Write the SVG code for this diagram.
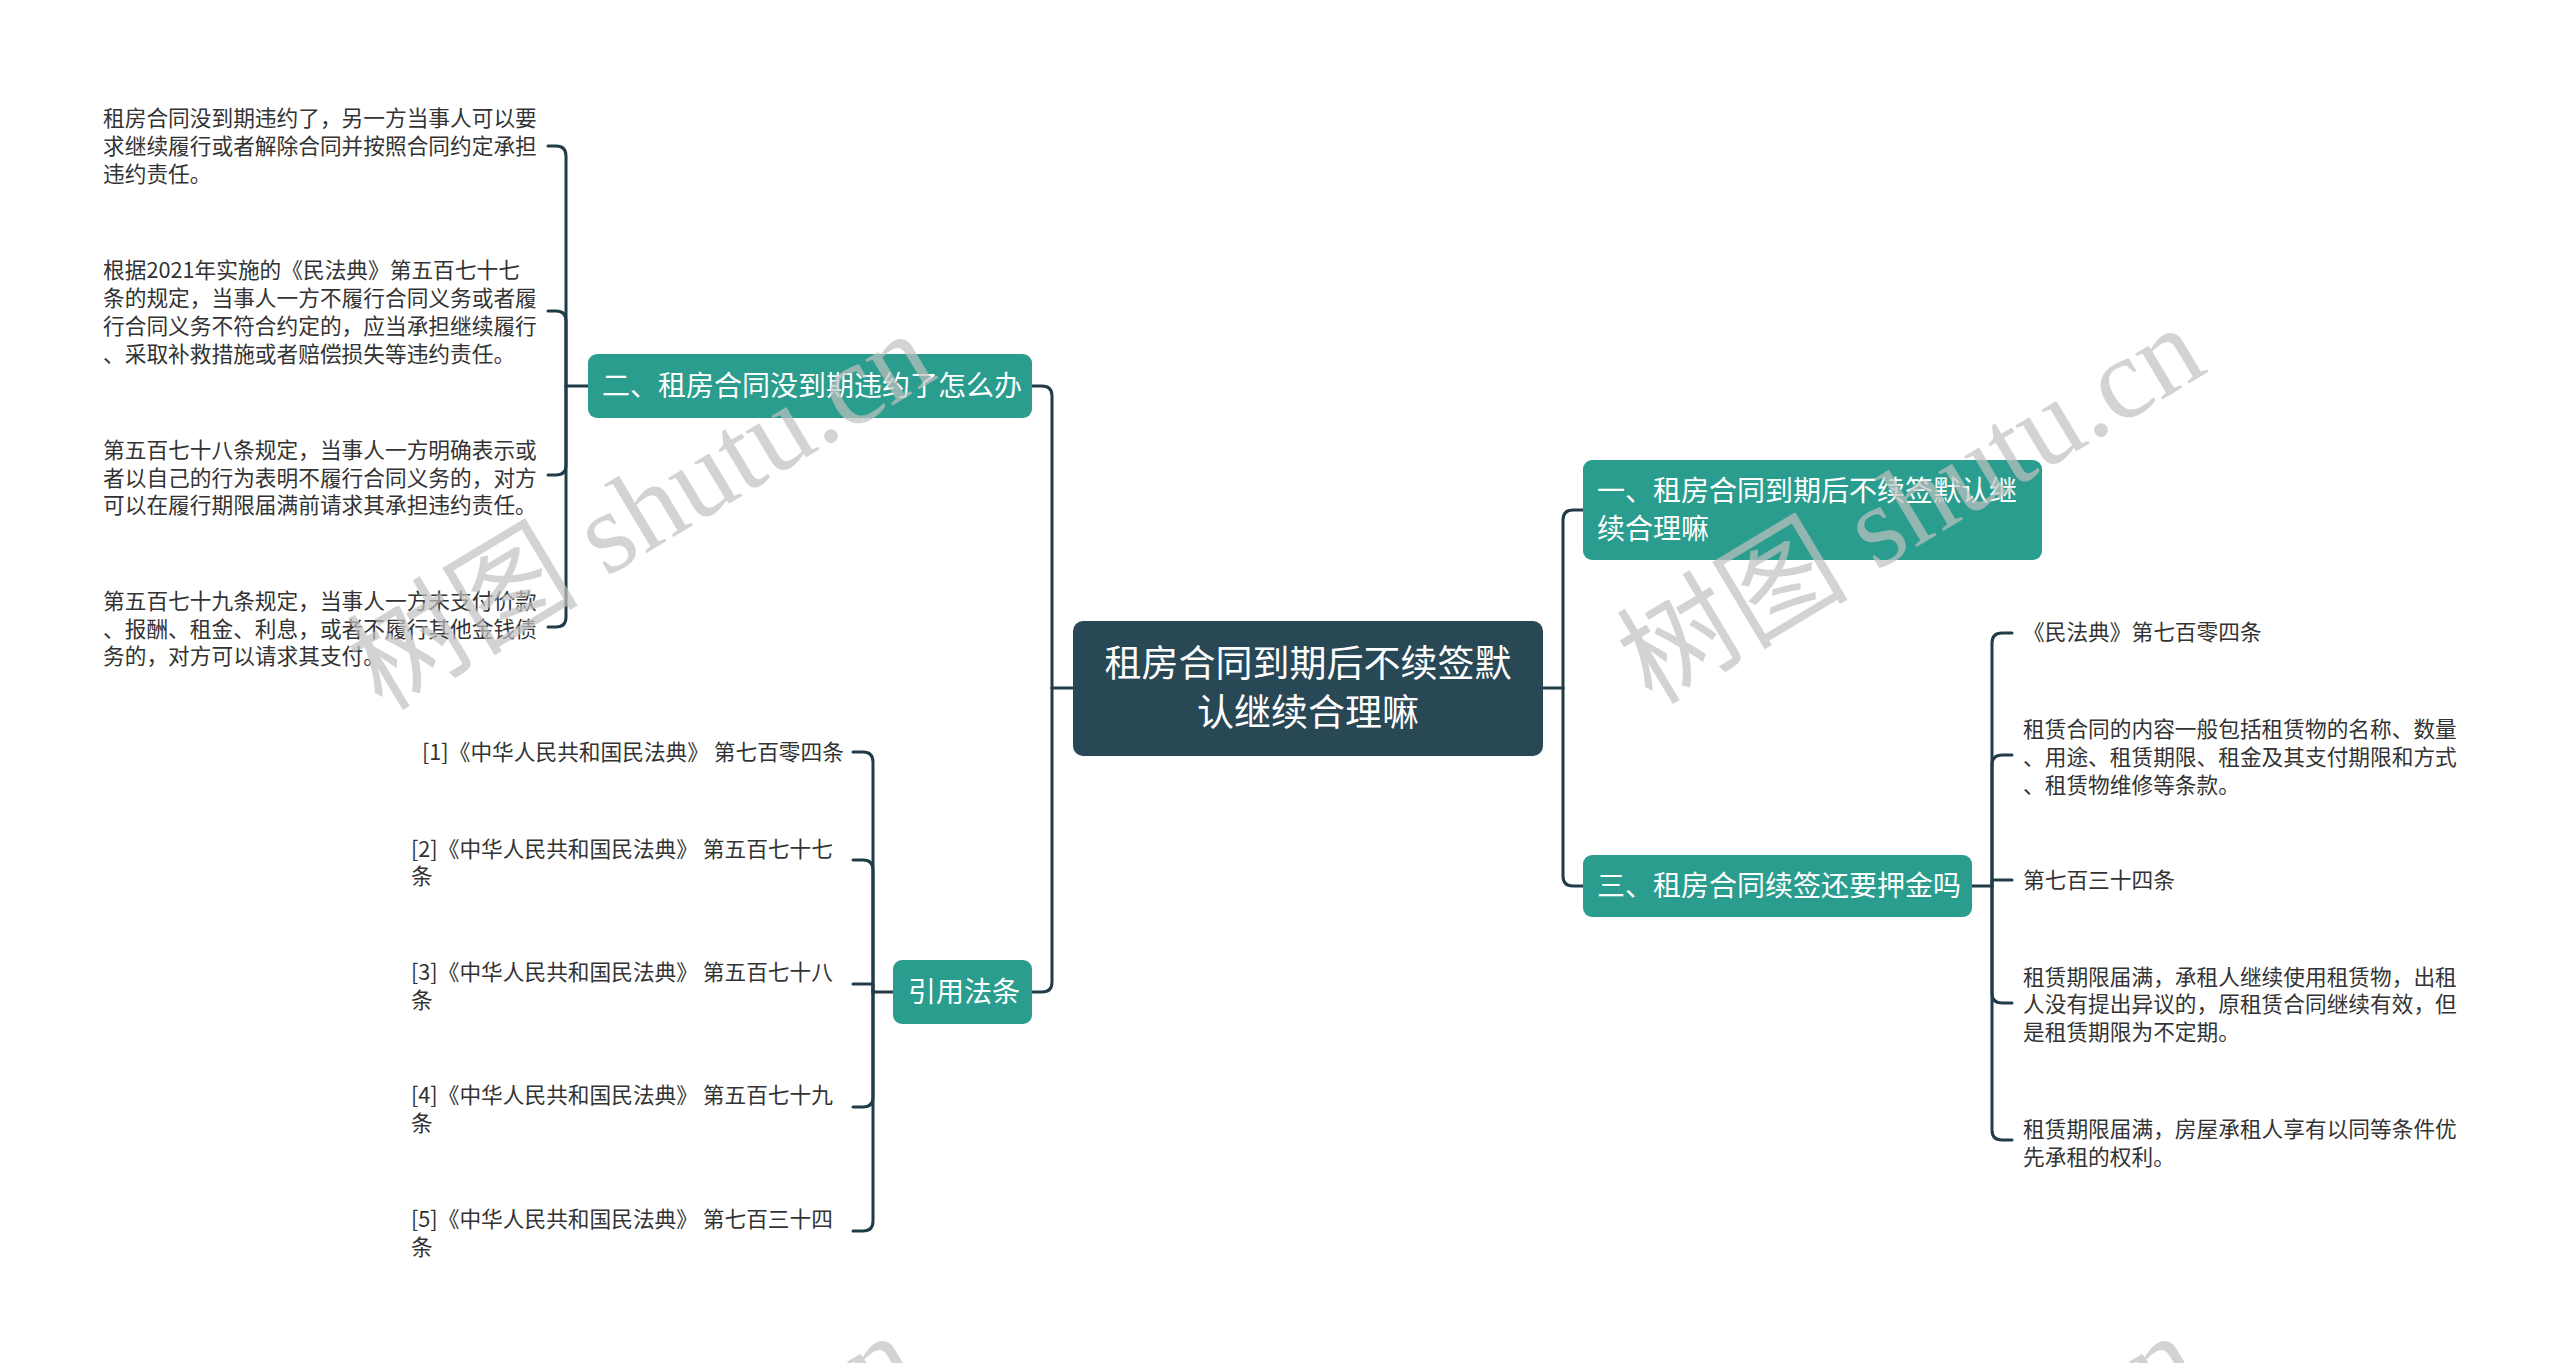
<svg xmlns="http://www.w3.org/2000/svg" width="2560" height="1363" viewBox="0 0 2560 1363">
<style>
.bg{fill:#ffffff}
.conn path{fill:none;stroke:#203c48;stroke-width:3;stroke-linecap:round;stroke-linejoin:round}
.root rect{fill:#284856}
.main rect{fill:#2a9d8e}
.root text,.main text{fill:#ffffff;font-family:"Noto Sans CJK SC","Noto Sans",sans-serif}
.root text{font-size:37px}
.main text{font-size:28px}
.leaf text{fill:#333333;font-family:"Noto Sans CJK SC","Noto Sans",sans-serif;font-size:21.7px}
.wm text{fill:#c0c0c0;fill-opacity:0.7;font-family:"Liberation Serif","Noto Sans CJK SC",serif;font-size:116px}
</style>
<rect class="bg" x="0" y="0" width="2560" height="1363"/>

<g id="connectors" class="conn">
  <path d="M1032,386 H1042 Q1052,386 1052,396 V688"/>
  <path d="M1032,992 H1042 Q1052,992 1052,982 V688"/>
  <path d="M1052,688 H1073"/>
  <path d="M1543,688 H1563"/>
  <path d="M1583,510 H1573 Q1563,510 1563,520 V688"/>
  <path d="M1583,886 H1573 Q1563,886 1563,876 V688"/>
  <path d="M588,386 H566"/>
  <path d="M548,146 H556 Q566,146 566,156 V386"/>
  <path d="M548,311 H556 Q566,311 566,321 V386"/>
  <path d="M548,475 H556 Q566,475 566,465 V386"/>
  <path d="M548,627 H556 Q566,627 566,617 V386"/>
  <path d="M893,992 H873"/>
  <path d="M853,752 H863 Q873,752 873,762 V992"/>
  <path d="M853,860 H863 Q873,860 873,870 V992"/>
  <path d="M853,984 H873 V992"/>
  <path d="M853,1107 H863 Q873,1107 873,1097 V992"/>
  <path d="M853,1231 H863 Q873,1231 873,1221 V992"/>
  <path d="M1972,886 H1992"/>
  <path d="M2012,633 H2002 Q1992,633 1992,643 V886"/>
  <path d="M2012,755 H2002 Q1992,755 1992,765 V886"/>
  <path d="M2012,880 H1992 V886"/>
  <path d="M2012,1003 H2002 Q1992,1003 1992,993 V886"/>
  <path d="M2012,1140 H2002 Q1992,1140 1992,1130 V886"/>
</g>

<g id="root" class="root">
  <rect x="1073" y="621" width="470" height="135" rx="10"/>
  <text x="1308" y="677" text-anchor="middle">租房合同到期后不续签默</text>
  <text x="1308" y="726" text-anchor="middle">认继续合理嘛</text>
</g>

<g id="n-er" class="main">
  <rect x="588" y="354" width="444" height="64" rx="9"/>
  <text x="602" y="396">二、租房合同没到期违约了怎么办</text>
</g>

<g id="n-yinyong" class="main">
  <rect x="893" y="960" width="139" height="64" rx="9"/>
  <text x="908" y="1002">引用法条</text>
</g>

<g id="n-yi" class="main">
  <rect x="1583" y="460" width="459" height="100" rx="9"/>
  <text x="1597" y="501">一、租房合同到期后不续签默认继</text>
  <text x="1597" y="539">续合理嘛</text>
</g>

<g id="n-san" class="main">
  <rect x="1583" y="855" width="389" height="62" rx="9"/>
  <text x="1597" y="896">三、租房合同续签还要押金吗</text>
</g>

<g id="l-er-1" class="leaf">
  <text x="103" y="126">租房合同没到期违约了，另一方当事人可以要</text>
  <text x="103" y="154">求继续履行或者解除合同并按照合同约定承担</text>
  <text x="103" y="182">违约责任。</text>
</g>
<g id="l-er-2" class="leaf">
  <text x="103" y="278">根据2021年实施的《民法典》第五百七十七</text>
  <text x="103" y="306">条的规定，当事人一方不履行合同义务或者履</text>
  <text x="103" y="334">行合同义务不符合约定的，应当承担继续履行</text>
  <text x="103" y="362">、采取补救措施或者赔偿损失等违约责任。</text>
</g>
<g id="l-er-3" class="leaf">
  <text x="103" y="458">第五百七十八条规定，当事人一方明确表示或</text>
  <text x="103" y="486">者以自己的行为表明不履行合同义务的，对方</text>
  <text x="103" y="513">可以在履行期限届满前请求其承担违约责任。</text>
</g>
<g id="l-er-4" class="leaf">
  <text x="103" y="609">第五百七十九条规定，当事人一方未支付价款</text>
  <text x="103" y="637">、报酬、租金、利息，或者不履行其他金钱债</text>
  <text x="103" y="664">务的，对方可以请求其支付。</text>
</g>

<g id="l-ref-1" class="leaf">
  <text x="422" y="760">[1]《中华人民共和国民法典》 第七百零四条</text>
</g>
<g id="l-ref-2" class="leaf">
  <text x="411" y="857">[2]《中华人民共和国民法典》 第五百七十七</text>
  <text x="411" y="884">条</text>
</g>
<g id="l-ref-3" class="leaf">
  <text x="411" y="980">[3]《中华人民共和国民法典》 第五百七十八</text>
  <text x="411" y="1008">条</text>
</g>
<g id="l-ref-4" class="leaf">
  <text x="411" y="1103">[4]《中华人民共和国民法典》 第五百七十九</text>
  <text x="411" y="1131">条</text>
</g>
<g id="l-ref-5" class="leaf">
  <text x="411" y="1227">[5]《中华人民共和国民法典》 第七百三十四</text>
  <text x="411" y="1255">条</text>
</g>

<g id="l-san-1" class="leaf">
  <text x="2023" y="640">《民法典》第七百零四条</text>
</g>
<g id="l-san-2" class="leaf">
  <text x="2023" y="737">租赁合同的内容一般包括租赁物的名称、数量</text>
  <text x="2023" y="765">、用途、租赁期限、租金及其支付期限和方式</text>
  <text x="2023" y="793">、租赁物维修等条款。</text>
</g>
<g id="l-san-3" class="leaf">
  <text x="2023" y="888">第七百三十四条</text>
</g>
<g id="l-san-4" class="leaf">
  <text x="2023" y="985">租赁期限届满，承租人继续使用租赁物，出租</text>
  <text x="2023" y="1012">人没有提出异议的，原租赁合同继续有效，但</text>
  <text x="2023" y="1040">是租赁期限为不定期。</text>
</g>
<g id="l-san-5" class="leaf">
  <text x="2023" y="1137">租赁期限届满，房屋承租人享有以同等条件优</text>
  <text x="2023" y="1165">先承租的权利。</text>
</g>

<g id="watermarks" class="wm">
  <text transform="translate(382,712) rotate(-31)">树图 shutu.cn</text>
  <text transform="translate(1652,706) rotate(-31)">树图 shutu.cn</text>
  <text transform="translate(364,1714) rotate(-31)">树图 shutu.cn</text>
  <text transform="translate(1646,1714) rotate(-31)">树图 shutu.cn</text>
</g>
</svg>
